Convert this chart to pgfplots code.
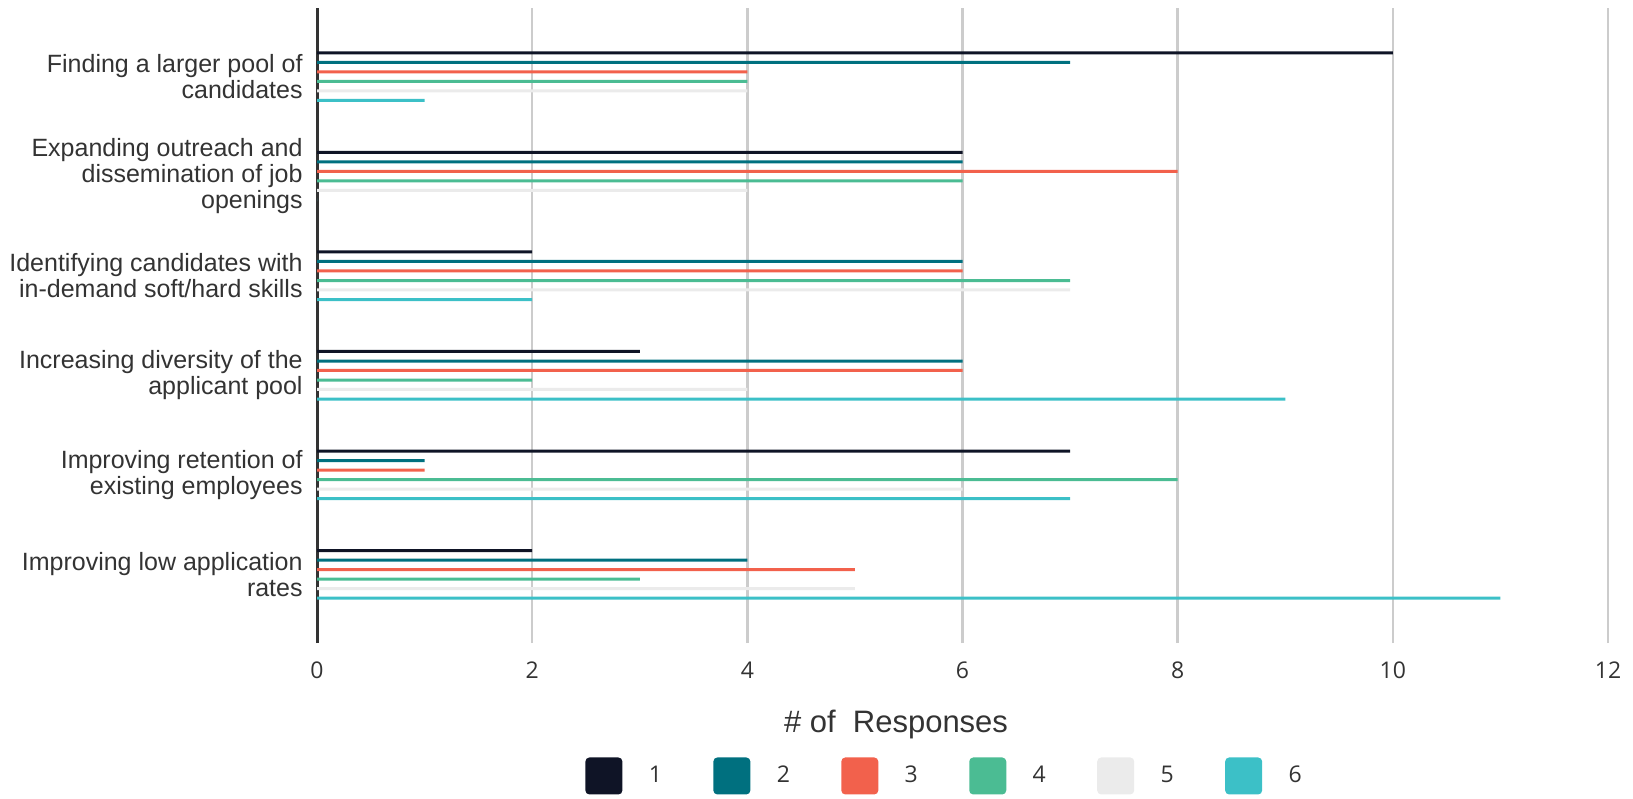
\documentclass[border=0pt]{standalone}
\usepackage{pgfplots}
\pgfplotsset{compat=1.18}
\usepackage{pgfplotstable}
\usepackage{fontspec}
\setmainfont{Liberation Sans}
\newfontfamily\tickfont{Open Sans}
\definecolor{c1}{HTML}{0F1426}
\definecolor{c2}{HTML}{00707F}
\definecolor{c3}{HTML}{F2614C}
\definecolor{c4}{HTML}{4BBC93}
\definecolor{c5}{HTML}{EBEBEB}
\definecolor{c6}{HTML}{3CC0C7}
\definecolor{gridgray}{HTML}{CCCCCC}
\definecolor{axisdark}{HTML}{333333}
\definecolor{txt}{HTML}{333333}
% pos: 0 = bottom category, 5 = top category
\pgfplotstableread{
pos s1 s2 s3 s4 s5 s6
0 2 4 5 3 5 11
1 7 1 1 8 6 7
2 3 6 6 2 4 9
3 2 6 6 7 7 2
4 6 6 8 6 4 0
5 10 7 4 4 4 1
}\data
\begin{document}
\begin{tikzpicture}
\path[use as bounding box] (0,0) rectangle (816.5pt,399pt);
\begin{axis}[
  at={(158.5pt,77.5pt)}, anchor=south west,
  scale only axis, width=645.5pt, height=317.5pt,
  xmin=0, xmax=12, ymin=-0.69, ymax=5.69,
  xbar, bar width=1.5pt, bar shift=0pt,
  xtick={0,2,...,12}, ytick={0,...,5},
  yticklabels={{Improving low application\\rates},
               {Improving retention of\\existing employees},
               {Increasing diversity of the\\applicant pool},
               {Identifying candidates with\\in-demand soft/hard skills},
               {Expanding outreach and\\dissemination of job\\openings},
               {Finding a larger pool of\\candidates}},
  major tick length=0pt,
  xmajorgrids, grid style={color=gridgray, line width=1.2pt},
  axis lines*=left, axis line style={-},
  x axis line style={draw=none},
  y axis line style={draw=axisdark, line width=1.5pt},
  /pgf/number format/assume math mode=true,
  yticklabel style={align=right, text=txt, font=\fontsize{12.5}{13}\selectfont, inner sep=0pt, xshift=-7pt},
  xticklabel style={text=txt, font=\tickfont\fontsize{11.5}{12}\selectfont, anchor=center, yshift=-13.5pt},
  xlabel={\# of~~Responses},
  xlabel style={at={(axis description cs:0.4485,-0.1402)}, anchor=base, text=txt, font=\fontsize{15.5}{18}\selectfont},
  legend columns=6,
  legend style={at={(axis description cs:0.2076,-0.2094)}, anchor=west, draw=none, fill=none, inner sep=0pt,
    text=txt, font=\tickfont\fontsize{11.5}{12}\selectfont, nodes={inner sep=0pt},
    /tikz/every odd column/.append style={column sep=13.2pt},
    /tikz/every even column/.append style={column sep=25.7pt}},
  legend image code/.code={\fill[rounded corners=2pt] (0pt,-9.25pt) rectangle (18.5pt,9.25pt);},
]
\addplot[fill=c1, draw=none] table[x=s1, y expr=\thisrow{pos}+0.239] {\data};
\addplot[fill=c2, draw=none] table[x=s2, y expr=\thisrow{pos}+0.143] {\data};
\addplot[fill=c3, draw=none] table[x=s3, y expr=\thisrow{pos}+0.048] {\data};
\addplot[fill=c4, draw=none] table[x=s4, y expr=\thisrow{pos}-0.048] {\data};
\addplot[fill=c5, draw=none] table[x=s5, y expr=\thisrow{pos}-0.143] {\data};
\addplot[fill=c6, draw=none] table[x=s6, y expr=\thisrow{pos}-0.239] {\data};
\legend{1,2,3,4,5,6}
\end{axis}
\end{tikzpicture}
\end{document}
